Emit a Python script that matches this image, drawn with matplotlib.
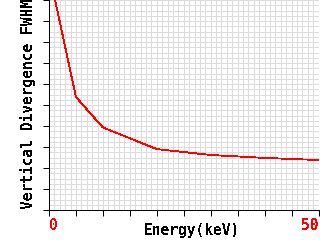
import numpy as np
import matplotlib
matplotlib.use("Agg")
import matplotlib.pyplot as plt
from matplotlib.ticker import MultipleLocator

# Data
energy = [1, 5, 10, 20, 30, 40, 50]
fwhm = [10.15, 5.38, 3.93, 2.90, 2.62, 2.48, 2.38]
x_tick_labels = ['0', '', '', '', '', '', '', '', '', '', '50']

plt.rcParams['font.family'] = ['DejaVu Sans Mono']
plt.rcParams['text.antialiased'] = False

fig = plt.figure(figsize=(3.2, 2.4), dpi=100)
ax = fig.add_axes([49 / 320, 30 / 240, 269.5 / 320, 210 / 240])

ax.plot(energy, fwhm, color='#ff0000', linewidth=0.6, antialiased=False, zorder=3)

ax.set_xlim(0, 50)
ax.set_ylim(0, 10)

# grid
ax.xaxis.set_major_locator(MultipleLocator(5))
ax.xaxis.set_minor_locator(MultipleLocator(1))
ax.yaxis.set_major_locator(MultipleLocator(1))
ax.yaxis.set_minor_locator(MultipleLocator(0.25))
ax.grid(True, which='both', color='#dcdcdc', linewidth=0.72, antialiased=False)
ax.set_axisbelow(True)

for s in ['top', 'right']:
    ax.spines[s].set_visible(False)
for s in ['left', 'bottom']:
    ax.spines[s].set_color('black')
    ax.spines[s].set_linewidth(0.72)
    ax.spines[s].set_antialiased(False)

ax.tick_params(which='major', direction='out', length=4, width=0.72, color='black')
ax.tick_params(which='minor', length=0)
ax.set_xticks(np.arange(0, 51, 5))
ax.set_xticklabels(x_tick_labels, color='#ff0000', fontsize=10.5, fontweight='bold')
ax.tick_params(axis='x', pad=2)
ax.set_yticklabels([])
labels = ax.get_xticklabels()
labels[0].set_ha('left')
labels[-1].set_ha('right')

ax.set_xlabel('Energy(keV)', fontsize=10.5, fontweight='bold')
ax.xaxis.set_label_coords(0.53, -0.06)
ax.set_ylabel('Vertical Divergence FWHM', fontsize=10.5, fontweight='bold')
ax.yaxis.set_label_coords(-0.05, 0.505)

fig.savefig('out.png', dpi=100)
